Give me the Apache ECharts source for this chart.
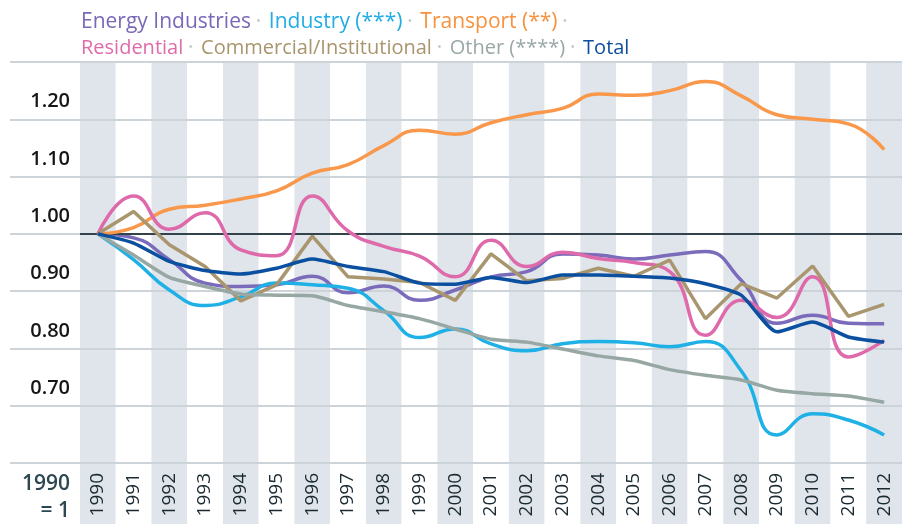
<!DOCTYPE html>
<html>
<head>
<meta charset="utf-8">
<script src="https://cdn.jsdelivr.net/npm/echarts@6/dist/echarts.min.js"></script>
<style>
    html, body { margin: 0; padding: 0; background: #fff; }
    #chart { width: 902px; height: 524px; }
</style>
</head>
<body>
<div id="chart"></div>
<script>
// 年份
const years = ['1990', '1991', '1992', '1993', '1994', '1995', '1996', '1997', '1998', '1999', '2000', '2001',
    '2002', '2003', '2004', '2005', '2006', '2007', '2008', '2009', '2010', '2011', '2012']

// 各部门数据 (1990 = 1)
const energy = [1.00, 0.993, 0.955, 0.914, 0.908, 0.911, 0.926, 0.897, 0.909, 0.884, 0.902, 0.925,
    0.934, 0.965, 0.963, 0.956, 0.963, 0.969, 0.919, 0.844, 0.858, 0.844, 0.843]
const industry = [1.00, 0.955, 0.902, 0.875, 0.890, 0.914, 0.911, 0.905, 0.866, 0.819, 0.834, 0.808,
    0.796, 0.808, 0.812, 0.810, 0.803, 0.812, 0.761, 0.649, 0.686, 0.675, 0.649]
const transport = [1.00, 1.011, 1.043, 1.050, 1.061, 1.075, 1.106, 1.121, 1.154, 1.181, 1.174, 1.194,
    1.208, 1.219, 1.244, 1.242, 1.250, 1.266, 1.241, 1.208, 1.200, 1.192, 1.147]
const residential = [1.00, 1.066, 1.008, 1.037, 0.972, 0.962, 1.066, 1.005, 0.978, 0.961, 0.925, 0.989,
    0.943, 0.968, 0.957, 0.950, 0.934, 0.823, 0.884, 0.854, 0.925, 0.785, 0.814]
const commercial = [1.00, 1.039, 0.981, 0.943, 0.883, 0.911, 0.996, 0.925, 0.921, 0.915, 0.884, 0.965,
    0.918, 0.922, 0.940, 0.926, 0.954, 0.852, 0.913, 0.888, 0.944, 0.856, 0.877]
const other = [1.00, 0.963, 0.924, 0.908, 0.895, 0.893, 0.892, 0.875, 0.864, 0.852, 0.834, 0.816,
    0.811, 0.799, 0.787, 0.779, 0.763, 0.753, 0.745, 0.727, 0.721, 0.717, 0.706]
const total = [1.00, 0.984, 0.952, 0.936, 0.930, 0.940, 0.956, 0.943, 0.934, 0.914, 0.912, 0.924,
    0.915, 0.928, 0.928, 0.926, 0.923, 0.913, 0.893, 0.829, 0.846, 0.820, 0.811]

// y轴刻度
const yMin = 0.6
const yMax = 1.3
const yStep = 0.1

const font = '"Open Sans", "Noto Sans", sans-serif'

// 系列配置: 名称, 数据, 颜色, 平滑
const seriesDefs = [
    { key: 'a', name: 'Energy Industries', data: energy, color: '#7b6bbb', text: '#7a68b8', smooth: 0.5 },
    { key: 'b', name: 'Industry (***)', data: industry, color: '#1fb1e6', text: '#22ade4', smooth: 0.5 },
    { key: 'c', name: 'Transport (**)', data: transport, color: '#f9974a', text: '#f7923f', smooth: 0.5 },
    { key: 'd', name: 'Residential', data: residential, color: '#de6aab', text: '#df6ca9', smooth: 0.5 },
    { key: 'e', name: 'Commercial/Institutional', data: commercial, color: '#a9966f', text: '#a8956d', smooth: false },
    { key: 'f', name: 'Other (****)', data: other, color: '#97a7a3', text: '#98a8a6', smooth: 0.2 },
    { key: 'g', name: 'Total', data: total, color: '#0b4fa0', text: '#0c4d9c', smooth: 0.2 }
]

// 图例: 两行, 每行字号略有不同以贴合原图宽度
function legendFor(defs, top, size) {
    const rich = { s: { color: '#c3cbcf', fontSize: 13, fontFamily: font, padding: [0, 0, 2, 5] } }
    defs.forEach(d => {
        rich[d.key] = { color: d.text, fontSize: size, fontFamily: font }
    })
    return {
        top: top,
        left: 71,
        orient: 'horizontal',
        icon: 'none',
        itemWidth: 0,
        itemHeight: 0,
        itemGap: 3,
        selectedMode: false,
        data: defs.map(d => d.name),
        textStyle: { fontSize: size, fontFamily: font, rich: rich },
        formatter: name => {
            const d = seriesDefs.find(s => s.name === name)
            return '{' + d.key + '|' + name + '}' + (name === 'Total' ? '' : '{s|•}')
        }
    }
}

const series = seriesDefs.map((d, i) => ({
    name: d.name,
    type: 'line',
    xAxisIndex: 2,
    yAxisIndex: 2,
    data: d.data,
    smooth: d.smooth,
    symbol: 'none',
    lineStyle: { color: d.color, width: 3.5 },
    itemStyle: { color: d.color },
    z: 3 + i
}))

// 1.00 基准线
series[0].markLine = {
    silent: true,
    symbol: 'none',
    label: { show: false },
    lineStyle: { color: '#33434b', width: 2, type: 'solid' },
    data: [{ yAxis: 1 }]
}

const labelFont = { fill: '#2d4752', fontSize: 21, fontWeight: 600, fontFamily: font }

const option = {
    animation: false,
    backgroundColor: '#fff',
    legend: [
        legendFor(seriesDefs.slice(0, 3), 7, 21),
        legendFor(seriesDefs.slice(3), 33, 20)
    ],
    grid: [
        // 灰色条带
        { left: 80, right: -6, top: 62, bottom: 0 },
        // 水平网格线
        { left: 10, right: 0, top: 62, bottom: 61 },
        // 折线
        { left: 80, right: -6, top: 62, bottom: 61 }
    ],
    xAxis: [
        {
            gridIndex: 0, type: 'category', data: years, z: 0,
            axisLine: { show: false }, axisTick: { show: false }, axisLabel: { show: false },
            splitArea: { show: true, areaStyle: { color: ['#dfe5ea', '#ffffff'] } }
        },
        { gridIndex: 1, type: 'value', show: false, min: 0, max: 1 },
        {
            gridIndex: 2, type: 'category', data: years,
            axisLine: { show: false }, axisTick: { show: false },
            axisLabel: { rotate: 90, margin: 10, fontSize: 19, fontFamily: font, color: '#1b2a31' }
        }
    ],
    yAxis: [
        { gridIndex: 0, type: 'value', show: false, min: 0, max: 1, splitLine: { show: false } },
        {
            gridIndex: 1, type: 'value', min: yMin, max: yMax, interval: yStep, z: 1,
            axisLine: { show: false }, axisTick: { show: false }, axisLabel: { show: false },
            splitLine: { show: true, lineStyle: { color: '#ccd4da', width: 2 } }
        },
        {
            gridIndex: 2, type: 'value', min: yMin, max: yMax, interval: yStep,
            axisLine: { show: false }, axisTick: { show: false }, splitLine: { show: false },
            axisLabel: {
                margin: 10, fontSize: 20, fontWeight: 600, fontFamily: font, color: '#161616',
                lineHeight: 35,
                // 标签放在网格线上方
                formatter: v => (v > yMax - 0.01 ? '' : v.toFixed(2) + '\n')
            }
        }
    ],
    graphic: [
        { type: 'text', right: 832, top: 474, style: Object.assign({ text: '1990' }, labelFont) },
        { type: 'text', right: 832, top: 501, style: Object.assign({ text: '= 1' }, labelFont) }
    ],
    series: series
}

const myChart = echarts.init(document.getElementById('chart'), null, { renderer: 'canvas' })
myChart.setOption(option)
</script>
</body>
</html>
